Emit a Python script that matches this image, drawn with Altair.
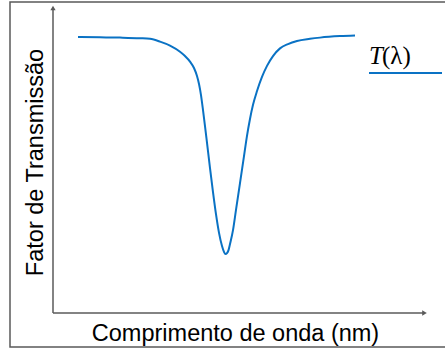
import altair as alt
import pandas as pd

# Wavelength (arbitrary units, no ticks shown) and transmission factor
wavelength = [6.68, 12.57, 17.91, 23.26, 25.94, 28.61, 31.28, 33.96, 35.29, 36.63,
              37.70, 38.50, 39.04, 39.57, 40.11, 40.64, 41.18, 41.98, 42.78, 43.58,
              44.39, 45.19, 45.72, 46.12, 46.52, 46.93, 47.33, 48.13, 48.93, 50.00,
              51.07, 51.87, 52.67, 53.48, 54.55, 55.88, 57.22, 58.82, 60.70, 62.83,
              65.24, 68.72, 71.39, 76.74, 80.75]
transmission = [0.899, 0.898, 0.897, 0.895, 0.893, 0.884, 0.871, 0.851, 0.837, 0.819,
                0.798, 0.772, 0.746, 0.710, 0.661, 0.609, 0.554, 0.472, 0.394, 0.322,
                0.261, 0.218, 0.199, 0.192, 0.195, 0.205, 0.225, 0.270, 0.336, 0.423,
                0.511, 0.577, 0.632, 0.678, 0.723, 0.769, 0.805, 0.837, 0.862, 0.876,
                0.886, 0.893, 0.897, 0.902, 0.904]

x_title = "Comprimento de onda (nm)"
y_title = "Fator de Transmissão"

df = pd.DataFrame({"w": wavelength, "t": transmission})

BLUE = "#0A72C4"
GRAY = "#5a5a5a"
one = alt.Data(values=[{}])

line = alt.Chart(df).mark_line(color=BLUE, strokeWidth=2, interpolate="monotone").encode(
    x=alt.X("w:Q", scale=alt.Scale(domain=[0, 100], nice=False, zero=False),
            axis=alt.Axis(domain=False, ticks=False, labels=False, grid=False,
                          title=x_title, titleFont="Liberation Sans", titleFontSize=23.5,
                          titleFontWeight="normal", titleColor="black",
                          titleX=182, titleY=27, titleBaseline="alphabetic", titleAlign="center")),
    y=alt.Y("t:Q", scale=alt.Scale(domain=[0, 1], nice=False, zero=False),
            axis=alt.Axis(domain=False, ticks=False, labels=False, grid=False,
                          title=y_title, titleFont="Liberation Sans", titleFontSize=23.5,
                          titleFontWeight="normal", titleColor="black", titleAngle=-90,
                          titleX=-11, titleY=156, titleBaseline="alphabetic", titleAlign="center")),
)

border = alt.Chart(one).mark_rect(fill=None, stroke=GRAY, strokeWidth=1.5).encode(
    x=alt.value(-43), x2=alt.value(400), y=alt.value(-4), y2=alt.value(341))

yaxis = alt.Chart(one).mark_rule(color=GRAY, strokeWidth=1.5).encode(
    x=alt.value(0), y=alt.value(3), y2=alt.value(307))
xaxis = alt.Chart(one).mark_rule(color=GRAY, strokeWidth=1.5).encode(
    x=alt.value(0), x2=alt.value(371), y=alt.value(307))
yarrow = alt.Chart(one).mark_point(shape="triangle-up", filled=True, color=GRAY, size=28, opacity=1).encode(
    x=alt.value(0), y=alt.value(2))
xarrow = alt.Chart(one).mark_point(shape="triangle-right", filled=True, color=GRAY, size=28, opacity=1).encode(
    x=alt.value(371.5), y=alt.value(307))

leg_t = alt.Chart(one).mark_text(text="T", font="Liberation Serif", fontStyle="italic", fontSize=25,
                                 align="left", baseline="alphabetic", color="black").encode(
    x=alt.value(316), y=alt.value(58))
leg_l = alt.Chart(one).mark_text(text="(λ)", font="Liberation Serif", fontSize=25,
                                 align="left", baseline="alphabetic", color="black").encode(
    x=alt.value(329), y=alt.value(58))
leg_line = alt.Chart(one).mark_rule(color=BLUE, strokeWidth=2).encode(
    x=alt.value(316), x2=alt.value(389), y=alt.value(67))

chart = alt.layer(border, yaxis, xaxis, yarrow, xarrow, line, leg_t, leg_l, leg_line).properties(
    width=374, height=307,
    autosize=alt.AutoSizeParams(type="none"),
    padding={"left": 53, "top": 6, "right": 18, "bottom": 36},
    background="white",
).configure_view(stroke=None)

chart.save("out.html", embed_options={"renderer": "svg", "actions": False})
